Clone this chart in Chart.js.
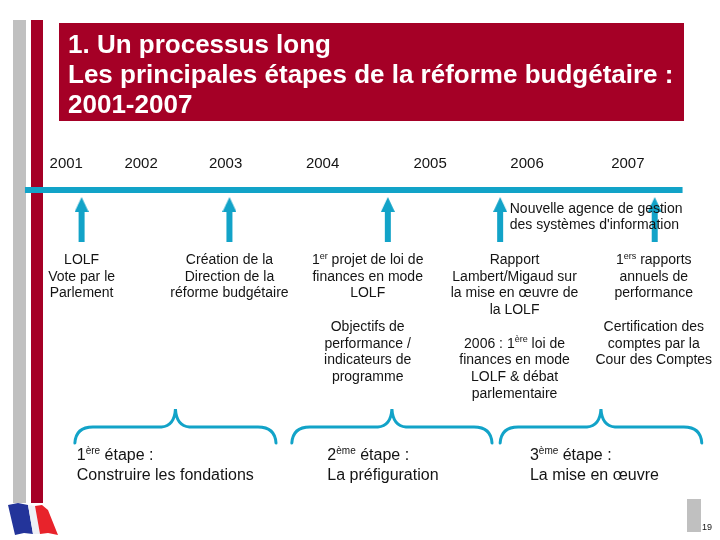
<!DOCTYPE html>
<html>
<head>
<meta charset="utf-8">
<script src="https://cdn.jsdelivr.net/npm/chart.js@4.4.1/dist/chart.umd.min.js"></script>
<style>
  html, body { margin: 0; padding: 0; background: #fff; }
  canvas { display: block; }
</style>
</head>
<body>
<canvas id="timeline" width="720" height="540"></canvas>
<script>
'use strict';

// timeline data (x in years, as placed on the slide)
const years = ['2001', '2002', '2003', '2004', '2005', '2006', '2007'];
const yearAt = [2001.19, 2001.97, 2002.85, 2003.86, 2004.98, 2005.99, 2007.04];
const timelineFrom = 2000.76;
const timelineTo = 2007.61;

const eventAt = [2001.35, 2002.89, 2004.54, 2005.71, 2007.32];
const eventTextAt = [2001.35, 2002.89, 2004.33, 2005.86, 2007.31];
const eventText = [
  ['LOLF', 'Vote par le', 'Parlement'],
  ['Création de la', 'Direction de la', 'réforme budgétaire'],
  ['1{er} projet de loi de', 'finances en mode', 'LOLF', '',
   'Objectifs de', 'performance /', 'indicateurs de', 'programme'],
  ['Rapport', 'Lambert/Migaud sur', 'la mise en œuvre de', 'la LOLF', '',
   '2006 : 1{ère} loi de', 'finances en mode', 'LOLF & débat', 'parlementaire'],
  ['1{ers} rapports', 'annuels de', 'performance', '',
   'Certification des', 'comptes par la', 'Cour des Comptes']
];

const noteAt = 2005.81;
const noteText = ['Nouvelle agence de gestion', 'des systèmes d\'information'];

const stageTitles = ['1{ère} étape :', '2{ème} étape :', '3{ème} étape :'];
const stageNames = ['Construire les fondations', 'La préfiguration', 'La mise en œuvre'];
const stageFrom = [2001.28, 2003.54, 2005.71];
const stageTo = [2003.375, 2005.625, 2007.81];
const stageLabelAt = [2001.30, 2003.91, 2006.02];

const titleLines = ['1. Un processus long', 'Les principales étapes de la réforme budgétaire :', '2001-2007'];
const pageNumber = '19';

// layout / styles
const BLUE = '#12a3c8';
const RED = '#a50026';
const GREY = '#c0c0c0';
const INK = '#141414';
const FONT = '"Liberation Sans", Arial, sans-serif';

const LINE_Y = 190;
const ARROW_TAIL = 242;
const ARROW_TIP = 204.5;
const YEAR_Y = 164;
const TEXT_TOP = 260;
const LINE_H = 16.75;
const NOTE_TOP = 209;
const NOTE_LH = 16;
const BRACE_TOP = 409;
const BRACE_MID = 427;
const BRACE_BOTTOM = 443;
const STAGE_Y1 = 456;
const STAGE_Y2 = 476;

// arrow head used as point style
const head = document.createElement('canvas');
head.width = 14;
head.height = 15;
(function () {
  const c = head.getContext('2d');
  c.fillStyle = BLUE;
  c.beginPath();
  c.moveTo(7, 0);
  c.lineTo(14, 15);
  c.lineTo(0, 15);
  c.closePath();
  c.fill();
})();

// text with {superscript} parts
function richText(ctx, str, x, y, size, align) {
  const parts = str.split(/\{([^}]*)\}/);
  const base = size + 'px ' + FONT;
  const small = Math.round(size * 0.62) + 'px ' + FONT;
  let w = 0;
  parts.forEach((p, i) => {
    ctx.font = i % 2 ? small : base;
    w += ctx.measureText(p).width;
  });
  let cx = align === 'center' ? x - w / 2 : x;
  ctx.textAlign = 'left';
  ctx.textBaseline = 'middle';
  parts.forEach((p, i) => {
    ctx.font = i % 2 ? small : base;
    ctx.fillText(p, cx, i % 2 ? y - size * 0.28 : y);
    cx += ctx.measureText(p).width;
  });
}

const slide = {
  id: 'slide',
  beforeDraw(chart) {
    const ctx = chart.ctx;
    ctx.save();
    ctx.fillStyle = '#fff';
    ctx.fillRect(0, 0, chart.width, chart.height);

    // side bars
    ctx.fillStyle = GREY;
    ctx.fillRect(13, 20, 13, 483);
    ctx.fillStyle = RED;
    ctx.fillRect(31, 20, 12, 483);

    // title box
    ctx.fillStyle = RED;
    ctx.fillRect(59, 23, 625, 98);
    ctx.fillStyle = '#fff';
    ctx.font = 'bold 26px ' + FONT;
    ctx.textAlign = 'left';
    ctx.textBaseline = 'alphabetic';
    titleLines.forEach((t, i) => ctx.fillText(t, 68, 53 + i * 30));

    // flag
    const band = (col, pts) => {
      ctx.fillStyle = col;
      ctx.beginPath();
      ctx.moveTo(pts[0], pts[1]);
      for (let i = 2; i < pts.length; i += 2) ctx.lineTo(pts[i], pts[i + 1]);
      ctx.closePath();
      ctx.fill();
    };
    band('#23349a', [8, 505, 18, 503, 28, 505, 33, 534, 24, 533, 15, 535]);
    band('#eef0f6', [28, 505, 35, 506, 40, 534, 33, 534]);
    band('#e8232b', [35, 506, 42, 505, 48, 510, 58, 535, 48, 533, 40, 534]);

    // page number
    ctx.fillStyle = GREY;
    ctx.fillRect(687, 499, 14, 33);
    ctx.fillStyle = INK;
    ctx.font = '9px ' + FONT;
    ctx.textBaseline = 'middle';
    ctx.fillText(pageNumber, 702, 528);
    ctx.restore();
  },
  afterDatasetsDraw(chart) {
    const ctx = chart.ctx;
    const x = v => chart.scales.x.getPixelForValue(v);
    const y = v => chart.scales.y.getPixelForValue(v);
    ctx.save();
    ctx.fillStyle = INK;

    // years
    years.forEach((t, i) => richText(ctx, t, x(yearAt[i]), y(YEAR_Y), 15, 'center'));

    // event texts
    eventText.forEach((lines, i) => {
      lines.forEach((t, j) => {
        if (t) richText(ctx, t, x(eventTextAt[i]), y(TEXT_TOP + j * LINE_H), 14, 'center');
      });
    });
    noteText.forEach((t, j) => richText(ctx, t, x(noteAt), y(NOTE_TOP + j * NOTE_LH), 14, 'left'));

    // braces
    ctx.strokeStyle = BLUE;
    ctx.lineWidth = 3;
    ctx.lineCap = 'round';
    stageFrom.forEach((from, i) => {
      const x0 = x(from), x1 = x(stageTo[i]), cx = (x0 + x1) / 2;
      const yt = y(BRACE_TOP), ym = y(BRACE_MID), yb = y(BRACE_BOTTOM);
      ctx.beginPath();
      ctx.moveTo(x0, yb);
      ctx.quadraticCurveTo(x0 + 1, ym, x0 + 18, ym);
      ctx.lineTo(cx - 14, ym);
      ctx.quadraticCurveTo(cx - 1, ym - 1, cx, yt);
      ctx.quadraticCurveTo(cx + 1, ym - 1, cx + 14, ym);
      ctx.lineTo(x1 - 18, ym);
      ctx.quadraticCurveTo(x1 - 1, ym, x1, yb);
      ctx.stroke();
    });

    // stage labels
    ctx.fillStyle = INK;
    stageTitles.forEach((t, i) => {
      richText(ctx, t, x(stageLabelAt[i]), y(STAGE_Y1), 16, 'left');
      richText(ctx, stageNames[i], x(stageLabelAt[i]), y(STAGE_Y2), 16, 'left');
    });
    ctx.restore();
  }
};

const datasets = [
  {
    data: [{ x: timelineFrom, y: LINE_Y }, { x: timelineTo, y: LINE_Y }],
    showLine: true,
    borderColor: BLUE,
    borderWidth: 6,
    borderCapStyle: 'butt',
    pointRadius: 0
  }
].concat(eventAt.map(v => ({
  data: [{ x: v, y: ARROW_TAIL }, { x: v, y: ARROW_TIP }],
  showLine: true,
  borderColor: BLUE,
  borderWidth: 6,
  borderCapStyle: 'butt',
  pointRadius: [0, 7],
  pointStyle: head
})));

new Chart(document.getElementById('timeline'), {
  type: 'scatter',
  data: { datasets },
  options: {
    responsive: false,
    devicePixelRatio: 1,
    animation: false,
    events: [],
    layout: { padding: 0, autoPadding: false },
    plugins: { legend: { display: false }, tooltip: { enabled: false } },
    scales: {
      x: { type: 'linear', min: 2000.5, max: 2008.0, display: false },
      y: { type: 'linear', min: 0, max: 540, reverse: true, display: false }
    }
  },
  plugins: [slide]
});
</script>
</body>
</html>
